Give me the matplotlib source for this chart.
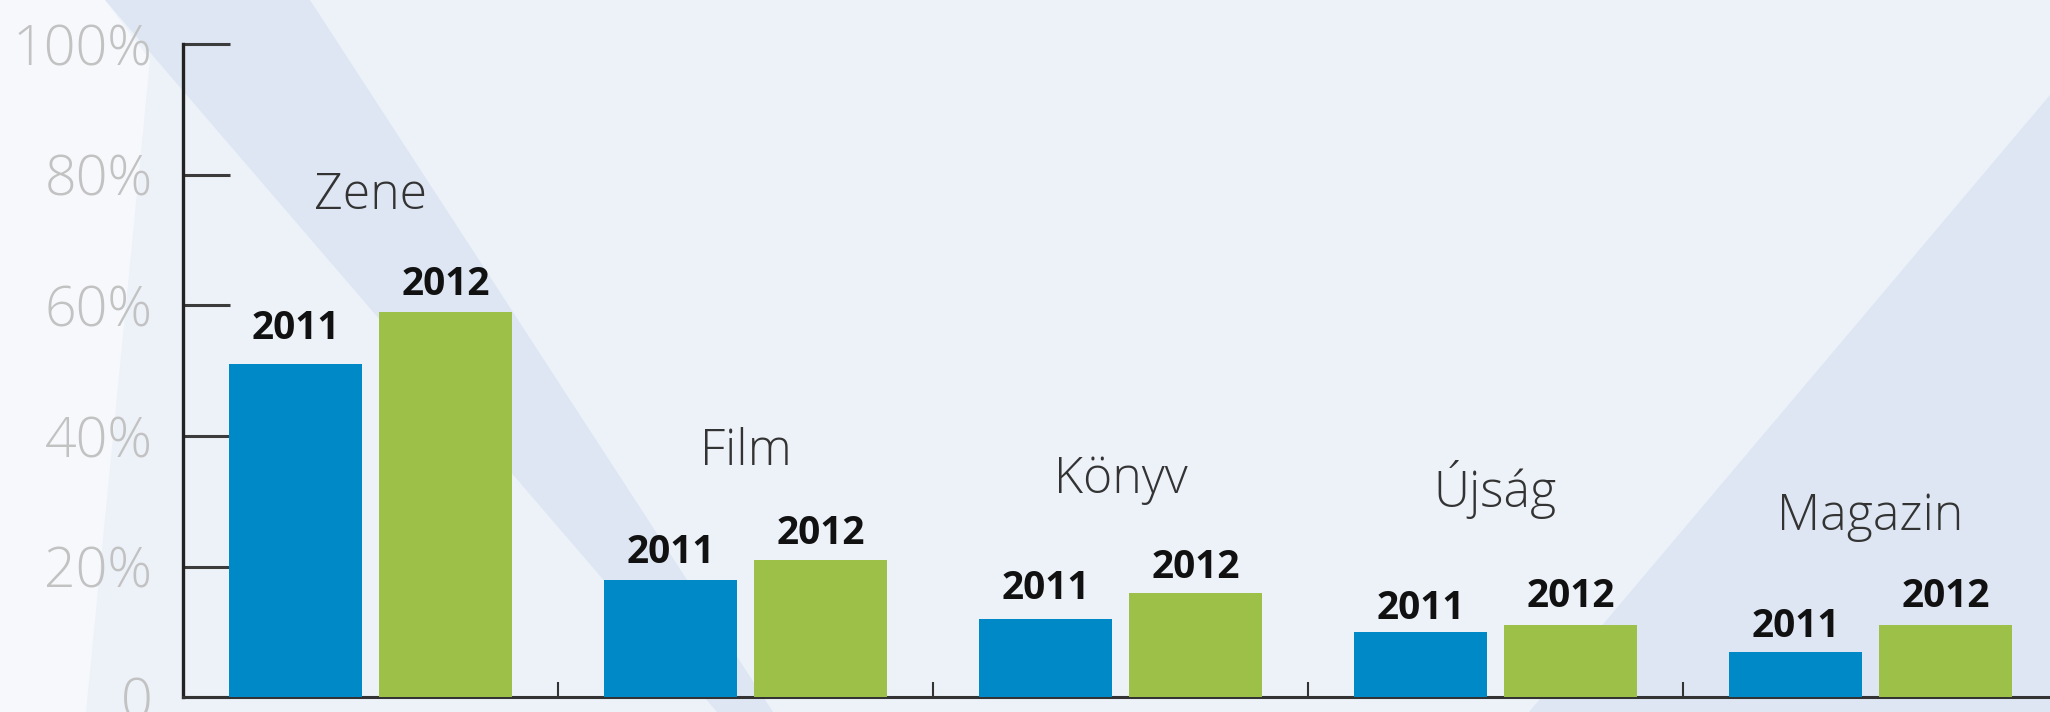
import matplotlib
matplotlib.use("Agg")
import matplotlib.pyplot as plt
from matplotlib.patches import Polygon

# ---- data ----
categories = ["Zene", "Film", "Könyv", "Újság", "Magazin"]
years = ["2011", "2012"]
values_2011 = [51, 18, 12, 10, 7]
values_2012 = [59, 21, 16, 11, 11]
ytick_values = [0, 20, 40, 60, 80, 100]
ytick_labels = ["0", "20%", "40%", "60%", "80%", "100%"]

# ---- layout (style only) ----
name_y = [74.8, 35.6, 31.3, 29.2, 25.6]          # category name baselines (axis units)
lab_off_2011 = [25, 17, 20, 13, 15]               # px gap above bars
lab_off_2012 = [17, 16, 15, 18, 18]

W, H, DPI = 2050, 712, 100
BLUE = "#0089c7"
GREEN = "#9dc148"
BASE = "#edf2f9"
WHITISH = "#f6f8fc"
BAND = "#dde6f2"

fig = plt.figure(figsize=(W / DPI, H / DPI), dpi=DPI, facecolor=BASE)

# background decoration in pixel coordinates
bg = fig.add_axes([0, 0, 1, 1], zorder=0)
bg.set_xlim(0, W)
bg.set_ylim(H, 0)
bg.axis("off")
bg.add_patch(Polygon([(0, 0), (105, 0), (150, 60), (86, H), (0, H)],
                     closed=True, facecolor=WHITISH, edgecolor="none"))
bg.add_patch(Polygon([(105, 0), (310, 0), (773, H), (717, H)],
                     closed=True, facecolor=BAND, edgecolor="none"))
bg.add_patch(Polygon([(1529, H), (2050, 95), (2050, H)],
                     closed=True, facecolor=BAND, edgecolor="none"))

# main axes
x0_px, y0_px, y100_px, cat_px = 183, 697.3, 44.3, 375
ax = fig.add_axes([x0_px / W, (H - y0_px) / H, 5 * cat_px / W, (y0_px - y100_px) / H], zorder=1)
ax.patch.set_visible(False)

n = len(categories)
xs = list(range(n))
bw = 0.357
off = 0.2
b1 = ax.bar([x - off for x in xs], values_2011, width=bw, color=BLUE, zorder=3)
b2 = ax.bar([x + off for x in xs], values_2012, width=bw, color=GREEN, zorder=3)

ax.set_xlim(-0.5, n - 0.5)
ax.set_ylim(0, 100)

for s in ["top", "right"]:
    ax.spines[s].set_visible(False)
ax.spines["left"].set_color("#222222")
ax.spines["left"].set_linewidth(2.4)
ax.spines["bottom"].set_color("#333333")
ax.spines["bottom"].set_linewidth(2.2)

ax.set_yticks(ytick_values)
ax.set_yticklabels(ytick_labels, fontsize=40, fontfamily="Open Sans",
                   fontweight="light", color="#c2c2c2")
ax.tick_params(axis="y", direction="in", length=34, width=2.2, color="#3c3c3c", pad=22)

ax.set_xticks([x + 0.5 for x in xs[:-1]])
ax.set_xticklabels([])
ax.tick_params(axis="x", direction="in", length=11, width=1.5, color="#333333")

# year labels
for i in xs:
    ax.annotate(years[0], (i - off, values_2011[i]), xytext=(0, lab_off_2011[i] * 0.72),
                textcoords="offset points", ha="center", va="baseline",
                fontsize=28, fontweight="bold", fontfamily="Open Sans", color="#111111", zorder=4)
    ax.annotate(years[1], (i + off, values_2012[i]), xytext=(0, lab_off_2012[i] * 0.72),
                textcoords="offset points", ha="center", va="baseline",
                fontsize=28, fontweight="bold", fontfamily="Open Sans", color="#111111", zorder=4)
    ax.text(i, name_y[i], categories[i], ha="center", va="baseline",
            fontsize=36, fontweight="light", fontfamily="Open Sans", color="#333333", zorder=4)

fig.savefig("out.png", dpi=DPI, facecolor=BASE)
